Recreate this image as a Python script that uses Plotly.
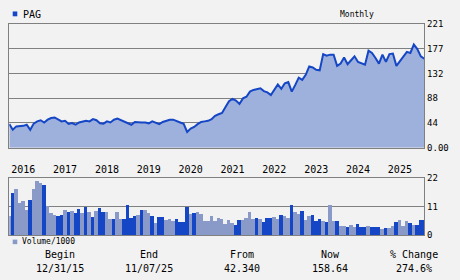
import plotly.graph_objects as go

W, H = 460, 280

ticker = "PAG"
frequency = "Monthly"
year_labels = ["2016", "2017", "2018", "2019", "2020", "2021", "2022", "2023", "2024", "2025"]
year_tick_index = [4 + 12 * k for k in range(len(year_labels))]

# monthly closes, Dec 2015 .. Nov 2025
price = [42.34, 32, 38, 38.5, 39, 41, 32, 43, 47, 49,
         45, 50, 53, 54, 50, 47, 48, 42.5, 44, 41,
         45, 47, 48, 47, 51, 49, 43.5, 43, 47, 45,
         50, 52, 49, 47, 44, 41, 46, 45, 45, 45,
         43.5, 47, 44, 42, 46, 48.7, 50, 50, 48, 45,
         42.5, 28, 34, 37, 42, 46, 47, 48, 51, 57,
         59.7, 62, 72.8, 83, 87, 84, 78, 88, 91, 100,
         103, 104, 106, 101, 98.6, 94, 104, 113, 105, 115,
         117, 100, 112, 125, 121, 130, 145, 143, 139, 138,
         167, 164, 166, 166, 146, 150, 161, 149, 156, 163,
         153, 151, 148, 173, 169, 160, 150, 166, 153, 167,
         168, 146, 154, 164, 171, 169, 184, 176, 163, 158.64]

volume = [7.4, 16.2, 17.7, 12.5, 13.2, 9.9, 13.6, 17.7, 21, 20.2,
          19.5, 11.4, 8.4, 7.7, 7.4, 7.7, 9.9, 9.1, 9.5, 8.4,
          10.2, 8.4, 11, 8.8, 6.9, 9.5, 10.6, 8.8, 8.8, 6.2,
          6.2, 9.1, 6.2, 6.2, 11.7, 6.5, 7.3, 7.7, 9.9, 9.9,
          8.4, 7.3, 4.7, 6.9, 6.9, 5.8, 6.2, 5.4, 6.2, 5.1,
          5.1, 11, 8.0, 8.4, 9.1, 8.0, 5.4, 5.4, 7.3, 5.4,
          6.5, 6.2, 4.3, 5.8, 4.7, 4.0, 5.8, 5.8, 6.5, 8.8,
          6.2, 6.5, 6.2, 5.1, 6.5, 6.5, 6.9, 6.2, 7.7, 7.3,
          6.5, 11.7, 9.1, 8.0, 9.5, 5.8, 7.3, 7.7, 5.4, 6.2,
          5.4, 5.1, 11.7, 5.4, 5.4, 3.6, 3.6, 3.2, 4.0, 3.2,
          4.3, 3.2, 3.2, 3.6, 3.2, 3.2, 3.2, 2.5, 2.8, 2.8,
          3.6, 5.1, 5.8, 3.6, 5.4, 4.7, 4.0, 4.0, 5.8, 5.8]

# u = up month (grey bar), d = down month (blue bar)
direction = list(
    "uduuuuduuu"
    "duuuddudud"
    "dudududduu"
    "duuddddudu"
    "ududduuudd"
    "dduduuuuuu"
    "uuuuudduuu"
    "ududdduudu"
    "uduuduuddd"
    "uduuduuduu"
    "dddudddudu"
    "uduuududdd"
)

price_tick_vals = [0, 44.2, 88.4, 132.6, 176.8, 221]
price_tick_text = ["0.00", "44", "88", "132", "177", "221"]
vol_tick_vals = [0, 11, 22]
vol_tick_text = ["0", "11", "22"]

summary_heads = ["Begin", "End", "From", "Now", "% Change"]
summary_vals = ["12/31/15", "11/07/25", "42.340", "158.64", "274.6%"]

BLUE = "#1446c6"
FILL = "#9eb0dc"
GREY_BAR = "#8a9ac8"
GRID = "#808080"
BG = "#f2f2f2"
FONT = "DejaVu Sans Mono"

idx = list(range(len(price)))
bar_colors = [GREY_BAR if c == "u" else BLUE for c in direction]

fig = go.Figure()
fig.add_trace(go.Scatter(x=idx, y=price, mode="lines", fill="tozeroy",
                         fillcolor=FILL, line=dict(color=BLUE, width=2),
                         xaxis="x", yaxis="y", showlegend=False))
fig.add_trace(go.Bar(x=idx, y=volume, marker=dict(color=bar_colors, line=dict(width=0)),
                     width=1.0, xaxis="x2", yaxis="y2", showlegend=False))

def px_x(p):
    return p / W

def px_y(p):
    return 1 - p / H

xdom = [px_x(9.3), px_x(424.3)]
xr = [0, len(price) - 1]

fig.update_layout(
    width=W, height=H, margin=dict(l=0, r=0, t=0, b=0),
    paper_bgcolor=BG, plot_bgcolor=BG,
    bargap=0,
    font=dict(family=FONT, color="#000000"),
    xaxis=dict(domain=xdom, range=xr, anchor="y", showgrid=False, zeroline=False,
               showticklabels=False, ticks="", showline=True, mirror=True,
               linecolor=GRID, linewidth=1),
    yaxis=dict(domain=[px_y(148), px_y(19.5)], range=[0, 221], anchor="x", side="right",
               tickvals=price_tick_vals, ticktext=price_tick_text,
               tickfont=dict(size=9, family=FONT), showgrid=True, gridcolor=GRID,
               gridwidth=1, zeroline=False, ticks="", showline=True, mirror=True,
               linecolor=GRID, linewidth=1),
    xaxis2=dict(domain=xdom, range=xr, anchor="y2", side="top", showgrid=False,
                zeroline=False, tickvals=year_tick_index, ticktext=year_labels,
                tickfont=dict(size=10, family=FONT), ticks="", showline=True,
                mirror=True, linecolor=GRID, linewidth=1),
    yaxis2=dict(domain=[px_y(238.7), px_y(179.3)], range=[0, 22], anchor="x2", side="right",
                tickvals=vol_tick_vals, ticktext=vol_tick_text,
                tickfont=dict(size=9, family=FONT), showgrid=True, gridcolor=GRID,
                gridwidth=1, zeroline=False, ticks="", showline=True, mirror=True,
                linecolor=GRID, linewidth=1),
)

annotations = [
    dict(x=px_x(21), y=px_y(9.5), text=ticker, xanchor="left", yanchor="middle",
         font=dict(size=10, family=FONT)),
    dict(x=px_x(356.5), y=px_y(9.5), text=frequency, xanchor="center", yanchor="middle",
         font=dict(size=8, family=FONT)),
    dict(x=px_x(20), y=px_y(245.5), text="Volume/1000", xanchor="left", yanchor="middle",
         font=dict(size=8, family=FONT)),
]
head_x = [60, 149, 241.5, 330, 414]
for hx, h, v in zip(head_x, summary_heads, summary_vals):
    annotations.append(dict(x=px_x(hx), y=px_y(259), text=h, xanchor="center",
                            yanchor="middle", font=dict(size=10, family=FONT)))
    annotations.append(dict(x=px_x(hx), y=px_y(273), text=v, xanchor="center",
                            yanchor="middle", font=dict(size=10, family=FONT)))
for a in annotations:
    a.update(xref="paper", yref="paper", showarrow=False)
fig.update_layout(annotations=annotations)

fig.update_layout(shapes=[
    dict(type="rect", xref="paper", yref="paper", x0=px_x(12.7), x1=px_x(17.3),
         y0=px_y(11.7), y1=px_y(6.7), fillcolor=BLUE, line=dict(width=0)),
    dict(type="rect", xref="paper", yref="paper", x0=px_x(12.7), x1=px_x(17.3),
         y0=px_y(248), y1=px_y(243.3), fillcolor=GREY_BAR, line=dict(width=0)),
])

fig.write_html("out.html")
